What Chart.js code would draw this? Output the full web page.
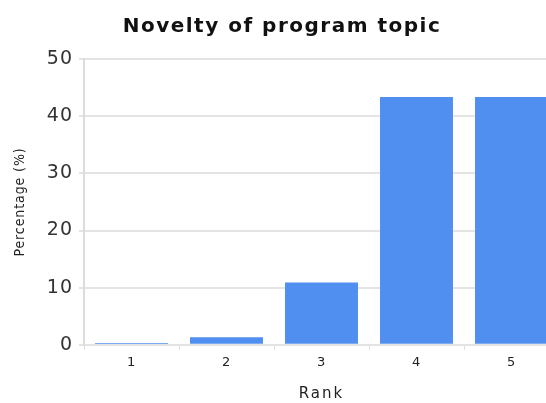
<!DOCTYPE html>
<html>
<head>
<meta charset="utf-8">
<script src="https://cdn.jsdelivr.net/npm/chart.js@4/dist/chart.umd.min.js"></script>
<style>
html,body{margin:0;padding:0;background:#fff;overflow:hidden;width:546px;height:403px;}
#wrap{position:absolute;left:0;top:0;width:571px;height:403px;}
</style>
</head>
<body>
<div id="wrap"><canvas id="c" width="571" height="403"></canvas></div>
<script>
const categories = ["1", "2", "3", "4", "5"];
const percentages = [0.3, 1.3, 10.9, 43.4, 43.4];
const yTicks = [0, 10, 20, 30, 40, 50];

function withSpacing(chart, fn, sp) {
  return function (...args) {
    const ctx = chart.ctx;
    ctx.save();
    ctx.letterSpacing = sp;
    fn.apply(this, args);
    ctx.restore();
  };
}

// letter spacing per text element (title / axis titles / tick labels)
const spacingPlugin = {
  id: 'letterSpacing',
  beforeLayout(chart) {
    chart.boxes.forEach(b => {
      if (b._lsWrapped) return;
      if (b === chart.titleBlock) {
        b.draw = withSpacing(chart, b.draw, '1.5px');
      } else if (b.id === 'x') {
        b.drawTitle = withSpacing(chart, b.drawTitle, '2px');
        b.drawLabels = withSpacing(chart, b.drawLabels, '0.5px');
      } else if (b.id === 'y') {
        b.drawTitle = withSpacing(chart, b.drawTitle, '0.9px');
        b.drawLabels = withSpacing(chart, b.drawLabels, '1px');
      } else return;
      b._lsWrapped = true;
    });
  }
};

new Chart(document.getElementById('c'), {
  type: 'bar',
  data: {
    labels: categories,
    datasets: [{
      data: percentages,
      backgroundColor: '#508ff0',
      borderWidth: 0,
      barPercentage: 0.768,
      categoryPercentage: 1.0
    }]
  },
  plugins: [spacingPlugin],
  options: {
    responsive: false,
    animation: false,
    layout: { padding: { left: 5, right: 12, top: 14.5, bottom: 0 } },
    plugins: {
      legend: { display: false },
      tooltip: { enabled: false },
      title: {
        display: true,
        text: 'Novelty of program topic',
        color: '#111',
        font: { family: 'DejaVu Sans', size: 20, weight: 'bold', lineHeight: 1.2 },
        padding: { top: 0, bottom: 20.8 }
      }
    },
    scales: {
      x: {
        afterFit: (s) => { s.height = 58.3; },
        grid: { display: true, drawOnChartArea: false, drawTicks: true, tickLength: 5, color: '#dddddd', lineWidth: 1 },
        border: { display: false },
        ticks: { color: '#222', font: { family: 'DejaVu Sans', size: 13, lineHeight: 1.2 }, padding: 5 },
        title: { display: true, text: 'Rank', color: '#222', font: { family: 'DejaVu Sans', size: 15, lineHeight: 1.2 }, padding: { top: 15, bottom: 0 } }
      },
      y: {
        min: yTicks[0],
        max: yTicks[yTicks.length - 1],
        afterBuildTicks: (s) => { s.ticks = yTicks.map(v => ({ value: v })); },
        afterFit: (s) => { s.width = 79; },
        grid: { color: '#e4e4e4', lineWidth: 2, tickLength: 5 },
        border: { display: true, color: '#dcdcdc', width: 2 },
        ticks: { color: '#333', font: { family: 'DejaVu Sans', size: 19, lineHeight: 1.2 }, padding: 6 },
        title: { display: true, text: 'Percentage (%)', color: '#222', font: { family: 'DejaVu Sans Condensed', size: 14, lineHeight: 1.2 }, padding: { top: 7, bottom: 10 } }
      }
    }
  }
});
</script>
</body>
</html>
